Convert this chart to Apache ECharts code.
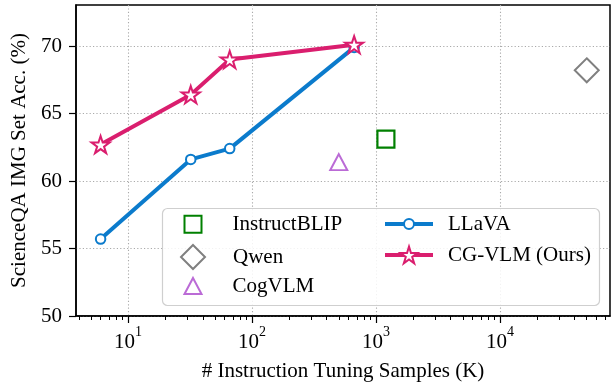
<!DOCTYPE html>
<html>
<head>
<meta charset="utf-8">
<script src="https://cdn.jsdelivr.net/npm/echarts@6/dist/echarts.min.js"></script>
<style>html,body{margin:0;padding:0;background:#fff}#c{width:611px;height:387px}</style>
</head>
<body>
<div id="c"></div>
<script>
// ---- data ----
const llavaSamples = [6, 32, 66, 665];
const llavaAcc = [55.7, 61.6, 62.4, 69.9];
const cgvlmSamples = [6, 32, 66, 665];
const cgvlmAcc = [62.7, 66.4, 69.0, 70.1];
const instructblip = [1200, 63.1];
const qwen = [50000, 68.2];
const cogvlm = [500, 61.4];
const xMajorTicks = [10, 100, 1000, 10000];
const xMinorTicks = [4, 5, 6, 7, 8, 9, 20, 30, 40, 50, 60, 70, 80, 90, 200, 300, 400, 500, 600, 700, 800, 900, 2000, 3000, 4000, 5000, 6000, 7000, 8000, 9000, 20000, 30000, 40000, 50000, 60000, 70000];
const yTicks = [50, 55, 60, 65, 70];

const FONT = 'Liberation Serif';
const PINK = '#DA1E6E', BLUE = '#0B7BCC', GREEN = '#008000', GRAY = '#808080', PURPLE = '#BB6BD6';
const STAR = 'path://M100 0 L122.45 69.1 L195.1 69.1 L136.33 111.8 L158.8 180.9 L100 138.2 L41.2 180.9 L63.67 111.8 L4.9 69.1 L77.55 69.1 Z';

const zip = (xs, ys) => xs.map((x, i) => [x, ys[i]]);
const grid = {left: 76, top: 5, right: 1, bottom: 71, show: true, borderColor: '#000', borderWidth: 1.5, backgroundColor: 'transparent'};
const dotted = {color: '#aaaaaa', width: 1.1, type: [1.2, 2.2]};

function legendItem(name, left, top, w, h, pad) {
  return {
    data: [name], left: left, top: top, itemWidth: w, itemHeight: h, padding: 0,
    orient: 'horizontal', selectedMode: false, z: 10,
    lineStyle: {width: 4},
    textStyle: {fontFamily: FONT, fontSize: 21, color: '#000', lineHeight: 22, padding: [0, 0, 0, pad]}
  };
}

const chart = echarts.init(document.getElementById('c'), null, {renderer: 'canvas'});
chart.setOption({
  animation: false,
  backgroundColor: '#fff',
  grid: grid,
  xAxis: [{
    type: 'log', logBase: 10, min: 3.8, max: 77000,
    name: '# Instruction Tuning Samples (K)', nameLocation: 'middle', nameGap: 45,
    nameTextStyle: {fontFamily: FONT, fontSize: 21, color: '#000'},
    axisLine: {show: true, lineStyle: {color: '#000', width: 1.5}},
    axisTick: {show: true, customValues: xMajorTicks, length: 7, lineStyle: {color: '#000', width: 1.2}},
    axisLabel: {
      customValues: xMajorTicks, margin: 9, color: '#000',
      formatter: v => '{b|10}{s|' + Math.round(Math.log10(v)) + '}',
      rich: {
        b: {fontFamily: FONT, fontSize: 21, color: '#000', verticalAlign: 'bottom', lineHeight: 28},
        s: {fontFamily: FONT, fontSize: 14, color: '#000', verticalAlign: 'top', lineHeight: 28}
      }
    },
    splitLine: {show: true, lineStyle: dotted}
  }, {
    type: 'log', logBase: 10, min: 3.8, max: 77000, position: 'bottom',
    axisLine: {show: false},
    axisTick: {show: true, customValues: xMinorTicks, length: 4, lineStyle: {color: '#000', width: 1}},
    axisLabel: {show: false},
    splitLine: {show: false}
  }],
  yAxis: {
    type: 'value', min: 50, max: 73.04,
    name: 'ScienceQA IMG Set Acc. (%)', nameLocation: 'middle', nameGap: 44, nameRotate: 90,
    nameTextStyle: {fontFamily: FONT, fontSize: 21, color: '#000'},
    axisLine: {show: true, lineStyle: {color: '#000', width: 1.5}},
    axisTick: {show: true, customValues: yTicks, length: 7, lineStyle: {color: '#000', width: 1.2}},
    axisLabel: {customValues: yTicks, margin: 14, fontFamily: FONT, fontSize: 21, color: '#000'},
    splitLine: {show: true, lineStyle: dotted}
  },
  legend: [
    legendItem('InstructBLIP', 183.5, 213.3, 17, 17, 26),
    legendItem('Qwen', 180, 244, 24, 24, 23),
    legendItem('CogVLM', 183.5, 275, 17, 16, 26),
    legendItem('LLaVA', 383, 213, 48, 12.5, 10),
    legendItem('CG-VLM (Ours)', 383, 244, 48, 21, 10)
  ],
  graphic: [{
    type: 'rect', z: 5, silent: true,
    shape: {x: 162.5, y: 208.5, width: 437, height: 97, r: 5},
    style: {fill: 'rgba(255,255,255,0.85)', stroke: '#cfcfcf', lineWidth: 1.2}
  }],
  series: [
    {
      name: 'InstructBLIP', type: 'scatter', data: [instructblip], symbol: 'rect', symbolSize: 17, z: 3,
      itemStyle: {color: '#fff', borderColor: GREEN, borderWidth: 2.2, opacity: 1}
    },
    {
      name: 'Qwen', type: 'scatter', data: [qwen], symbol: 'diamond', symbolSize: 24, z: 3,
      itemStyle: {color: '#fff', borderColor: GRAY, borderWidth: 2, opacity: 1}
    },
    {
      name: 'CogVLM', type: 'scatter', data: [cogvlm], symbol: 'triangle', symbolSize: [17, 16], z: 3,
      itemStyle: {color: '#fff', borderColor: PURPLE, borderWidth: 2, opacity: 1}
    },
    {
      name: 'LLaVA', type: 'line', data: zip(llavaSamples, llavaAcc), symbol: 'circle', symbolSize: 9.5, showAllSymbol: true, z: 3,
      lineStyle: {color: BLUE, width: 4},
      itemStyle: {color: '#fff', borderColor: BLUE, borderWidth: 2}
    },
    {
      name: 'CG-VLM (Ours)', type: 'line', data: zip(cgvlmSamples, cgvlmAcc), symbol: STAR, symbolSize: 18, symbolKeepAspect: true, showAllSymbol: true, z: 4,
      lineStyle: {color: PINK, width: 4},
      itemStyle: {color: '#fff', borderColor: PINK, borderWidth: 2}
    }
  ]
});
</script>
</body>
</html>
